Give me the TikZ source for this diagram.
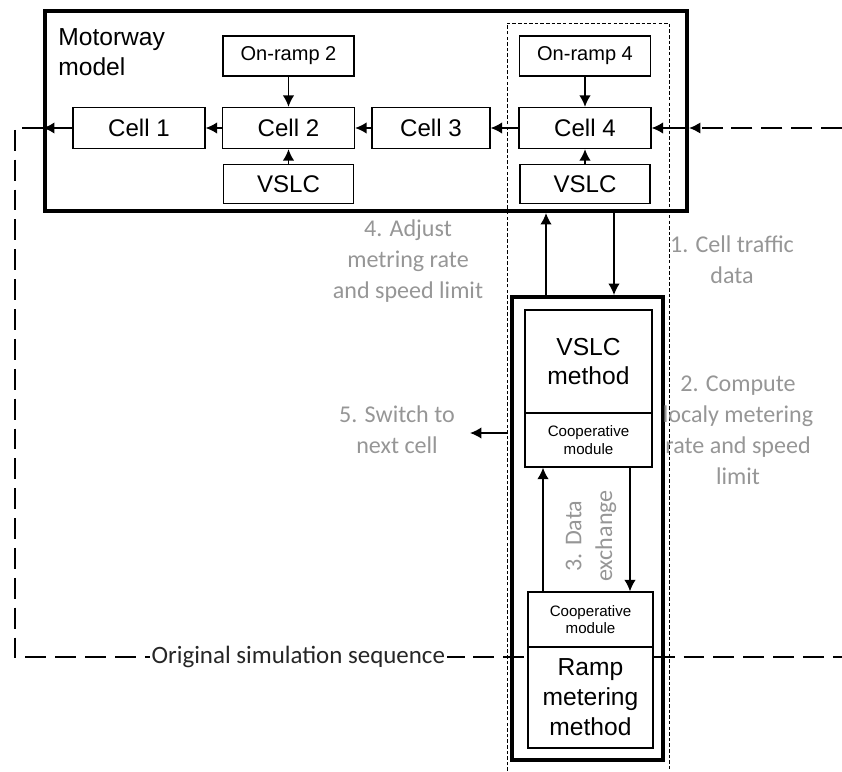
\documentclass[tikz,border=0pt]{standalone}
\usepackage{fontspec}
\setmainfont{Liberation Sans}
\newfontfamily\notefamily{Carlito}
\usepackage{xcolor}
\usepackage{tikz}
\usetikzlibrary{shapes.geometric, arrows.meta}
\definecolor{notegray}{RGB}{150,150,150}
\newcommand{\cellfont}{\fontsize{13.7}{16}\selectfont}
\newcommand{\rampfont}{\fontsize{11.4}{14}\selectfont}
\newcommand{\methodfont}{\fontsize{14}{17}\selectfont}
\newcommand{\coopfont}{\fontsize{8.6}{9.8}\selectfont}
\newcommand{\notefont}{\notefamily\fontsize{13.7}{17.6}\selectfont}
\newcommand{\seqfont}{\notefamily\fontsize{14.2}{17}\selectfont}
\tikzstyle{cell} = [rectangle, minimum width=2.64cm, minimum height=0.82cm, inner sep=0pt, text centered, draw=black, line width=0.75pt, font=\cellfont]
\tikzstyle{ramp} = [cell, minimum width=2.62cm, minimum height=0.8cm, font=\rampfont]
\tikzstyle{method} = [cell, minimum width=2.54cm, align=center, font=\methodfont]
\tikzstyle{coop} = [cell, minimum width=2.54cm, minimum height=1.08cm, align=center, font=\coopfont]
\tikzstyle{bigbox} = [rectangle, draw=black, line width=2.3pt, inner sep=0pt]
\tikzstyle{notetext} = [text=notegray, align=center, font=\notefont]
\tikzstyle{arrow} = [line width=0.85pt,-{Latex[length=6.5pt,width=6.5pt]}]
\tikzstyle{loopline} = [line width=1.1pt, dash pattern=on 11.9pt off 5.1pt]

\begin{document}
\begin{tikzpicture}[x=0.02cm, y=-0.02cm, node distance=1.44cm]
   \useasboundingbox (0,0) rectangle (842,771);
   % motorway model
   \node (mm) [bigbox, minimum width=12.84cm, minimum height=4cm] at (366,111) {};
   \node (mtxt) [anchor=north west, align=left, inner sep=0pt, font=\methodfont] at (58,28) {Motorway\\model};
   \node (c4) [cell] at (585,128) {Cell 4};
   \node (c3) [cell, minimum width=2.36cm] at (431,128) {Cell 3};
   \node (c2) [cell] at (288.5,128) {Cell 2};
   \node (c1) [cell] at (139,128) {Cell 1};
   \node (onr2) [ramp, above of=c2] {On-ramp 2};
   \node (onr4) [ramp, above of=c4] {On-ramp 4};
   \node (vs2) [cell, minimum width=2.6cm, minimum height=0.78cm, below of=c2, node distance=1.12cm] {VSLC};
   \node (vs4) [cell, minimum width=2.6cm, minimum height=0.78cm, below of=c4, node distance=1.12cm] {VSLC};
   \draw [arrow] (onr2) -- (c2);
   \draw [arrow] (onr4) -- (c4);
   \draw [arrow] (vs2) -- (c2);
   \draw [arrow] (vs4) -- (c4);
   \draw [arrow] (c4) -- (c3);
   \draw [arrow] (c3) -- (c2);
   \draw [arrow] (c2) -- (c1);
   \draw [arrow] (c1) -- (mm.west |- c1);
   \draw [arrow] (mm.east |- c4) -- (c4);
   % cell 4 controllers
   \draw [dash pattern=on 2pt off 1.2pt, line width=0.5pt] (507,771) |- (669,23) -- (669,771);
   \node (lb) [bigbox, minimum width=3.02cm, minimum height=9.26cm] at (587.5,528.5) {};
   \node (vm) [method, minimum height=2.06cm] at (588.5,361.5) {VSLC\\method};
   \node (cm1) [coop] at (588.5,440) {Cooperative\\module};
   \node (cm2) [coop, minimum width=2.5cm, minimum height=1.1cm] at (590.5,619.5) {Cooperative\\module};
   \node (rm) [method, minimum width=2.5cm, minimum height=2.02cm] at (590.5,697.5) {Ramp\\metering\\method};
   \draw [arrow] ([xshift=-0.83cm]lb.north) -- ([xshift=-0.83cm]lb.north |- mm.south);
   \draw [arrow] ([xshift=0.53cm]lb.north |- mm.south) -- ([xshift=0.53cm]lb.north);
   \draw [arrow] ([xshift=-0.95cm]cm2.north) -- ([xshift=-0.95cm]cm2.north |- cm1.south);
   \draw [arrow] ([xshift=0.83cm]cm1.south) -- ([xshift=0.83cm]cm1.south |- cm2.north);
   \coordinate (sw) at (507,433);
   \coordinate (nx) at (470,433);
   \draw [arrow] (sw) -- (nx);
   % steps
   \node (n1) [notetext] at (732,260) {1. Cell traffic\\data};
   \node (n2) [notetext] at (738,430) {2. Compute\\localy metering\\rate and speed\\limit};
   \node (n3) [notetext, rotate=90] at (591,536) {3. Data\\exchange};
   \node (n4) [notetext] at (408,261) {4. Adjust\\metring rate\\and speed limit};
   \node (n5) [notetext] at (397,430) {5. Switch to\\next cell};
   % simulation sequence
   \coordinate (rin) at (842,128);
   \coordinate (lc) at (15,657);
   \coordinate (rout) at (842,657);
   \draw [arrow, loopline] (rin) -- (mm.east |- rin);
   \draw [loopline] (mm.west |- c1) -| (lc) -- node[pos=0.553, fill=white, inner sep=1pt, text=black!85, font=\seqfont] (seq) {Original simulation sequence} (rm.west |- lc);
   \draw [loopline] (rm.east |- rout) -- (rout);
\end{tikzpicture}
\end{document}
